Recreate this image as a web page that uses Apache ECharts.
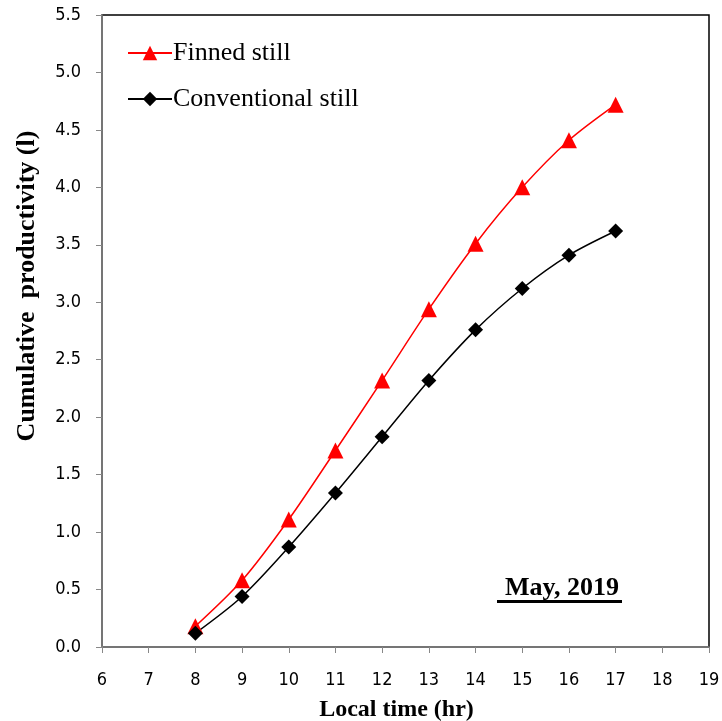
<!DOCTYPE html>
<html>
<head>
<meta charset="utf-8">
<script src="https://cdn.jsdelivr.net/npm/echarts@6/dist/echarts.min.js"></script>
<style>
  html, body { margin: 0; padding: 0; background: #fff; }
  #chart { width: 722px; height: 721px; }
</style>
</head>
<body>
<div id="chart"></div>
<script>
// Hourly readings, local time
const hours = [8, 9, 10, 11, 12, 13, 14, 15, 16, 17];
// Cumulative distillate (litres)
const finnedStill = [0.18, 0.58, 1.11, 1.71, 2.32, 2.94, 3.51, 4.00, 4.41, 4.72];
const conventionalStill = [0.12, 0.44, 0.87, 1.34, 1.83, 2.32, 2.76, 3.12, 3.41, 3.62];
const seriesNames = ['Finned still', 'Conventional still'];
const periodLabel = 'May, 2019';

const chart = echarts.init(document.getElementById('chart'));

const pairs = (ys) => hours.map((h, i) => [h, ys[i]]);
const serif = '"Liberation Serif", "Times New Roman", serif';
const tickFont = '"DejaVu Sans Condensed", "Open Sans", sans-serif';

chart.setOption({
  animation: false,
  backgroundColor: '#fff',
  grid: {
    left: 102, right: 13, top: 15, bottom: 74,
    outerBoundsMode: 'none', containLabel: false,
    show: true, borderColor: '#000', borderWidth: 1.5
  },
  legend: {
    orient: 'vertical',
    left: 122,
    top: 35,
    itemWidth: 44,
    itemHeight: 18,
    itemGap: 20,
    textStyle: { fontFamily: serif, fontSize: 26, color: '#000', padding: [0, 0, 0, -4] },
    data: seriesNames
  },
  xAxis: {
    type: 'value',
    min: 6, max: 19, interval: 1,
    name: 'Local time (hr)',
    nameLocation: 'middle',
    nameGap: 51,
    nameTextStyle: { fontFamily: serif, fontSize: 24, fontWeight: 'bold', color: '#000', padding: [0, 18, 0, 0] },
    axisLine: { show: true, lineStyle: { color: '#888', width: 1.5 } },
    axisTick: { show: true, inside: false, length: 6, lineStyle: { color: '#888' } },
    axisLabel: { fontFamily: tickFont, fontSize: 18, color: '#000', margin: 24 },
    splitLine: { show: false }
  },
  yAxis: {
    type: 'value',
    min: 0, max: 5.5, interval: 0.5,
    name: 'Cumulative  productivity (l)',
    nameLocation: 'middle',
    nameGap: 62,
    nameTextStyle: { fontFamily: serif, fontSize: 26, fontWeight: 'bold', color: '#000', padding: [0, 0, 0, 90] },
    axisLine: { show: true, lineStyle: { color: '#888', width: 1.5 } },
    axisTick: { show: true, inside: false, length: 6, lineStyle: { color: '#888' } },
    axisLabel: { fontFamily: tickFont, fontSize: 18, color: '#000', margin: 21,
      formatter: (v) => v.toFixed(1) },
    splitLine: { show: false }
  },
  graphic: [{
    type: 'group',
    left: 497, top: 575,
    children: [
      { type: 'text', left: 8, top: 0,
        style: { text: periodLabel, font: 'bold 26px ' + serif, fill: '#000' } },
      { type: 'rect', left: 0, top: 25, shape: { width: 125, height: 3 }, style: { fill: '#000' } }
    ]
  }],
  series: [
    {
      name: seriesNames[0],
      type: 'line',
      data: pairs(finnedStill),
      smooth: 0.3,
      symbol: 'triangle',
      symbolSize: 16,
      itemStyle: { color: '#ff0000' },
      lineStyle: { color: '#ff0000', width: 1.5 }
    },
    {
      name: seriesNames[1],
      type: 'line',
      data: pairs(conventionalStill),
      smooth: 0.3,
      symbol: 'diamond',
      symbolSize: 15,
      itemStyle: { color: '#000' },
      lineStyle: { color: '#000', width: 1.5 }
    }
  ]
});
</script>
</body>
</html>
